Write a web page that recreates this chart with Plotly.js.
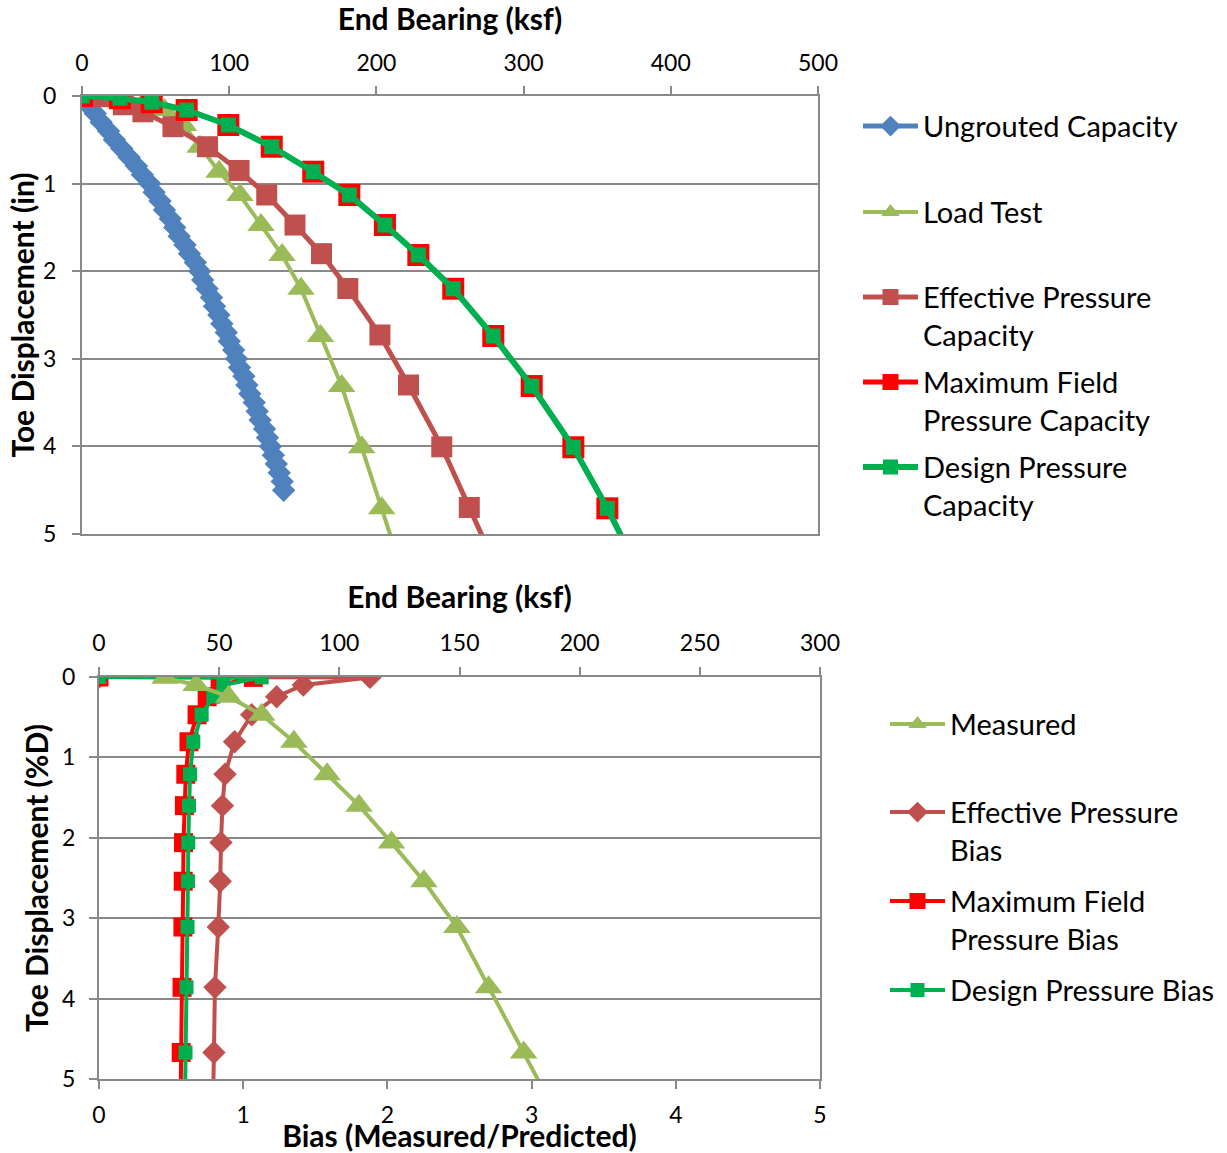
<!DOCTYPE html>
<html><head><meta charset="utf-8">
<script src="https://cdn.plot.ly/plotly-3.0.1.min.js"></script>
<style>html,body{margin:0;padding:0;background:#fff}</style>
</head><body><div id="chart" style="width:1227px;height:1153px"></div>
<script>
// ---------- TOP CHART: End bearing (ksf) vs toe displacement (in) ----------
const ungroutedDisp = [0,0.1,0.2,0.3,0.4,0.5,0.6,0.7,0.8,0.9,1.0,1.1,1.2,1.3,1.4,1.5,1.6,1.7,1.8,1.9,2.0,2.1,2.2,2.3,2.4,2.5,2.6,2.7,2.8,2.9,3.0,3.1,3.2,3.3,3.4,3.5,3.6,3.7,3.8,3.9,4.0,4.1,4.2,4.3,4.4,4.5];
const ungroutedBearing = [0,4,9,13,18,22,27,32,37,41,46,49,53,56,60,63,66,70,73,77,80,82,85,88,90,93,95,98,100,103,105,107,110,112,114,117,119,121,124,126,128,130,132,134,136,137];

const capDisp = [0,0.026,0.072,0.16,0.331,0.579,0.864,1.13,1.473,1.815,2.2,2.74,3.311,4.01,4.707,5.4];
const loadTestBearing = [0,20,42,56,69,80.2,93.1,107.3,121.6,135.9,148.8,162,176.4,190,203.6,217];
const maxFieldBearing = [0,25.8,47.4,71.1,99.4,128.9,157.1,181.6,205.8,228.5,252.2,279.4,305.5,333.8,356.9,377.6];
const designBearing = [0,25.8,47.4,71.1,99.4,128.9,157.1,181.6,205.8,228.5,252.2,279.4,305.5,333.8,356.9,377.6];

const effDisp = [0,0.008,0.1,0.18,0.35,0.579,0.85,1.13,1.473,1.8,2.198,2.728,3.299,4.005,4.697,5.4];
const effBearing = [0,13.4,28.1,41.4,61.8,85.3,106.7,125.5,144.7,162.7,180.6,202.4,221.8,244.4,263.1,282];

// ---------- BOTTOM CHART: bias and measured bearing vs toe displacement (%D) ----------
const measuredDisp = [0.01,0.1,0.245,0.47,0.805,1.21,1.6,2.06,2.54,3.11,3.86,4.67,5.4];
const measuredBearing = [27.5,40.4,53.9,67.7,81.1,94.9,108.2,121.7,135.2,148.9,162.1,176.7,189.6];

const biasDisp = [0,0.005,0.1,0.245,0.47,0.805,1.21,1.6,2.06,2.54,3.11,3.86,4.67,5.4];
const effBias = [0,1.879,1.417,1.232,1.059,0.94,0.874,0.856,0.846,0.841,0.827,0.804,0.797,0.79];
const maxFieldBias = [0,1.07,0.84,0.75,0.68,0.624,0.602,0.592,0.586,0.584,0.582,0.576,0.57,0.565];
const designBias = [0,1.128,0.862,0.793,0.712,0.654,0.631,0.624,0.619,0.617,0.614,0.607,0.6,0.595];

const topTicks = [0,100,200,300,400,500];
const bottomTopTicks = [0,50,100,150,200,250,300];
const biasTicks = [0,1,2,3,4,5];
const dispTicks = [0,1,2,3,4,5];

const C = {blue:'#4F81BD', olive:'#9BBB59', brick:'#C0504D', red:'#FF0000', green:'#00B050', grid:'#898989'};
const FONT = 'Lato, "Open Sans", sans-serif';
const W = 1227, H = 1153;
const px = v => v / W, py = v => 1 - v / H;

const traces = [
  {x: ungroutedBearing, y: ungroutedDisp, xaxis:'x', yaxis:'y', name:'Ungrouted Capacity', legend:'legend',
   mode:'lines+markers', line:{color:C.blue, width:5}, marker:{symbol:'diamond', size:18, color:C.blue}},
  {x: loadTestBearing, y: capDisp, xaxis:'x', yaxis:'y', name:'Load Test', legend:'legend2',
   mode:'lines+markers', line:{color:C.olive, width:4}, marker:{symbol:'triangle-up', size:24, color:C.olive}},
  {x: effBearing, y: effDisp, xaxis:'x', yaxis:'y', name:'Effective Pressure<br>Capacity', legend:'legend3',
   mode:'lines+markers', line:{color:C.brick, width:5}, marker:{symbol:'square', size:21, color:C.brick}},
  {x: maxFieldBearing, y: capDisp, xaxis:'x', yaxis:'y', name:'Maximum Field<br>Pressure Capacity', legend:'legend4',
   mode:'lines+markers', line:{color:C.red, width:5}, marker:{symbol:'square', size:22, color:C.red}},
  {x: designBearing, y: capDisp, xaxis:'x', yaxis:'y', name:'Design Pressure<br>Capacity', legend:'legend5',
   mode:'lines+markers', line:{color:C.green, width:6}, marker:{symbol:'square', size:15, color:C.green}},

  {x: measuredBearing, y: measuredDisp, xaxis:'x3', yaxis:'y2', name:'Measured', legend:'legend6',
   mode:'lines+markers', line:{color:C.olive, width:4}, marker:{symbol:'triangle-up', size:24, color:C.olive}},
  {x: effBias, y: biasDisp, xaxis:'x2', yaxis:'y2', name:'Effective Pressure<br>Bias', legend:'legend7',
   mode:'lines+markers', line:{color:C.brick, width:4}, marker:{symbol:'diamond', size:18, color:C.brick}},
  {x: maxFieldBias, y: biasDisp, xaxis:'x2', yaxis:'y2', name:'Maximum Field<br>Pressure Bias', legend:'legend8',
   mode:'lines+markers', line:{color:C.red, width:4}, marker:{symbol:'square', size:19, color:C.red}},
  {x: designBias, y: biasDisp, xaxis:'x2', yaxis:'y2', name:'Design Pressure Bias', legend:'legend9',
   mode:'lines+markers', line:{color:C.green, width:4}, marker:{symbol:'square', size:14, color:C.green}}
];

const tickFont = {family: FONT, size: 23, color:'#000'};
const titleFont = {family: FONT, size: 30, color:'#000', weight:'bold'};
const axBase = {showline:true, linecolor:C.grid, linewidth:2, ticks:'outside', ticklen:8, tickwidth:2, tickcolor:C.grid,
  tickfont: tickFont, zeroline:false, fixedrange:true};

function leg(xLeft, topPx) {
  return {x: px(xLeft), y: py(topPx), xanchor:'left', yanchor:'top', bgcolor:'rgba(0,0,0,0)', borderwidth:0,
    font:{family:FONT, size:29, color:'#000'}, valign:'top', itemwidth:55, itemclick:false};
}

const layout = {
  width: W, height: H, margin:{l:0, r:0, t:0, b:0}, paper_bgcolor:'#fff', plot_bgcolor:'#fff', showlegend:true,
  font:{family:FONT},
  xaxis: Object.assign({}, axBase, {domain:[px(82), px(818)], anchor:'y', side:'top', range:[0,500], tickvals: topTicks,
    showgrid:false, mirror:true, ticklabelstandoff:6,
    title:{text:'End Bearing (ksf)', font:titleFont, standoff:10}}),
  yaxis: Object.assign({}, axBase, {domain:[py(534), py(96)], anchor:'x', range:[5,0], tickvals: dispTicks,
    showgrid:true, gridcolor:C.grid, gridwidth:2, mirror:true, ticklabelstandoff:11,
    title:{text:'Toe Displacement (in)', font:titleFont, standoff:0}}),
  xaxis2: Object.assign({}, axBase, {domain:[px(99), px(820)], anchor:'y2', side:'bottom', range:[0,5], tickvals: biasTicks,
    showgrid:false, ticklabelstandoff:6,
    title:{text:'Bias (Measured/Predicted)', font:titleFont, standoff:0}}),
  xaxis3: Object.assign({}, axBase, {domain:[px(99), px(820)], anchor:'y2', overlaying:'x2', side:'top', range:[0,300], tickvals: bottomTopTicks,
    showgrid:false, ticklabelstandoff:7,
    title:{text:'End Bearing (ksf)', font:titleFont, standoff:10}}),
  yaxis2: Object.assign({}, axBase, {domain:[py(1079), py(677)], anchor:'x2', range:[5,0], tickvals: dispTicks,
    showgrid:true, gridcolor:C.grid, gridwidth:2, mirror:true, ticklabelstandoff:9,
    title:{text:'Toe Displacement (%D)', font:titleFont, standoff:5}}),
  legend: leg(858, 100.7),
  legend2: leg(858, 186.7),
  legend3: leg(858, 271.7),
  legend4: leg(858, 356.7),
  legend5: leg(858, 441.7),
  legend6: leg(885, 698.7),
  legend7: leg(885, 786.7),
  legend8: leg(885, 875.7),
  legend9: leg(885, 964.7)
};

Plotly.newPlot('chart', traces, layout, {displayModeBar:false, staticPlot:true});
</script>
</body></html>
